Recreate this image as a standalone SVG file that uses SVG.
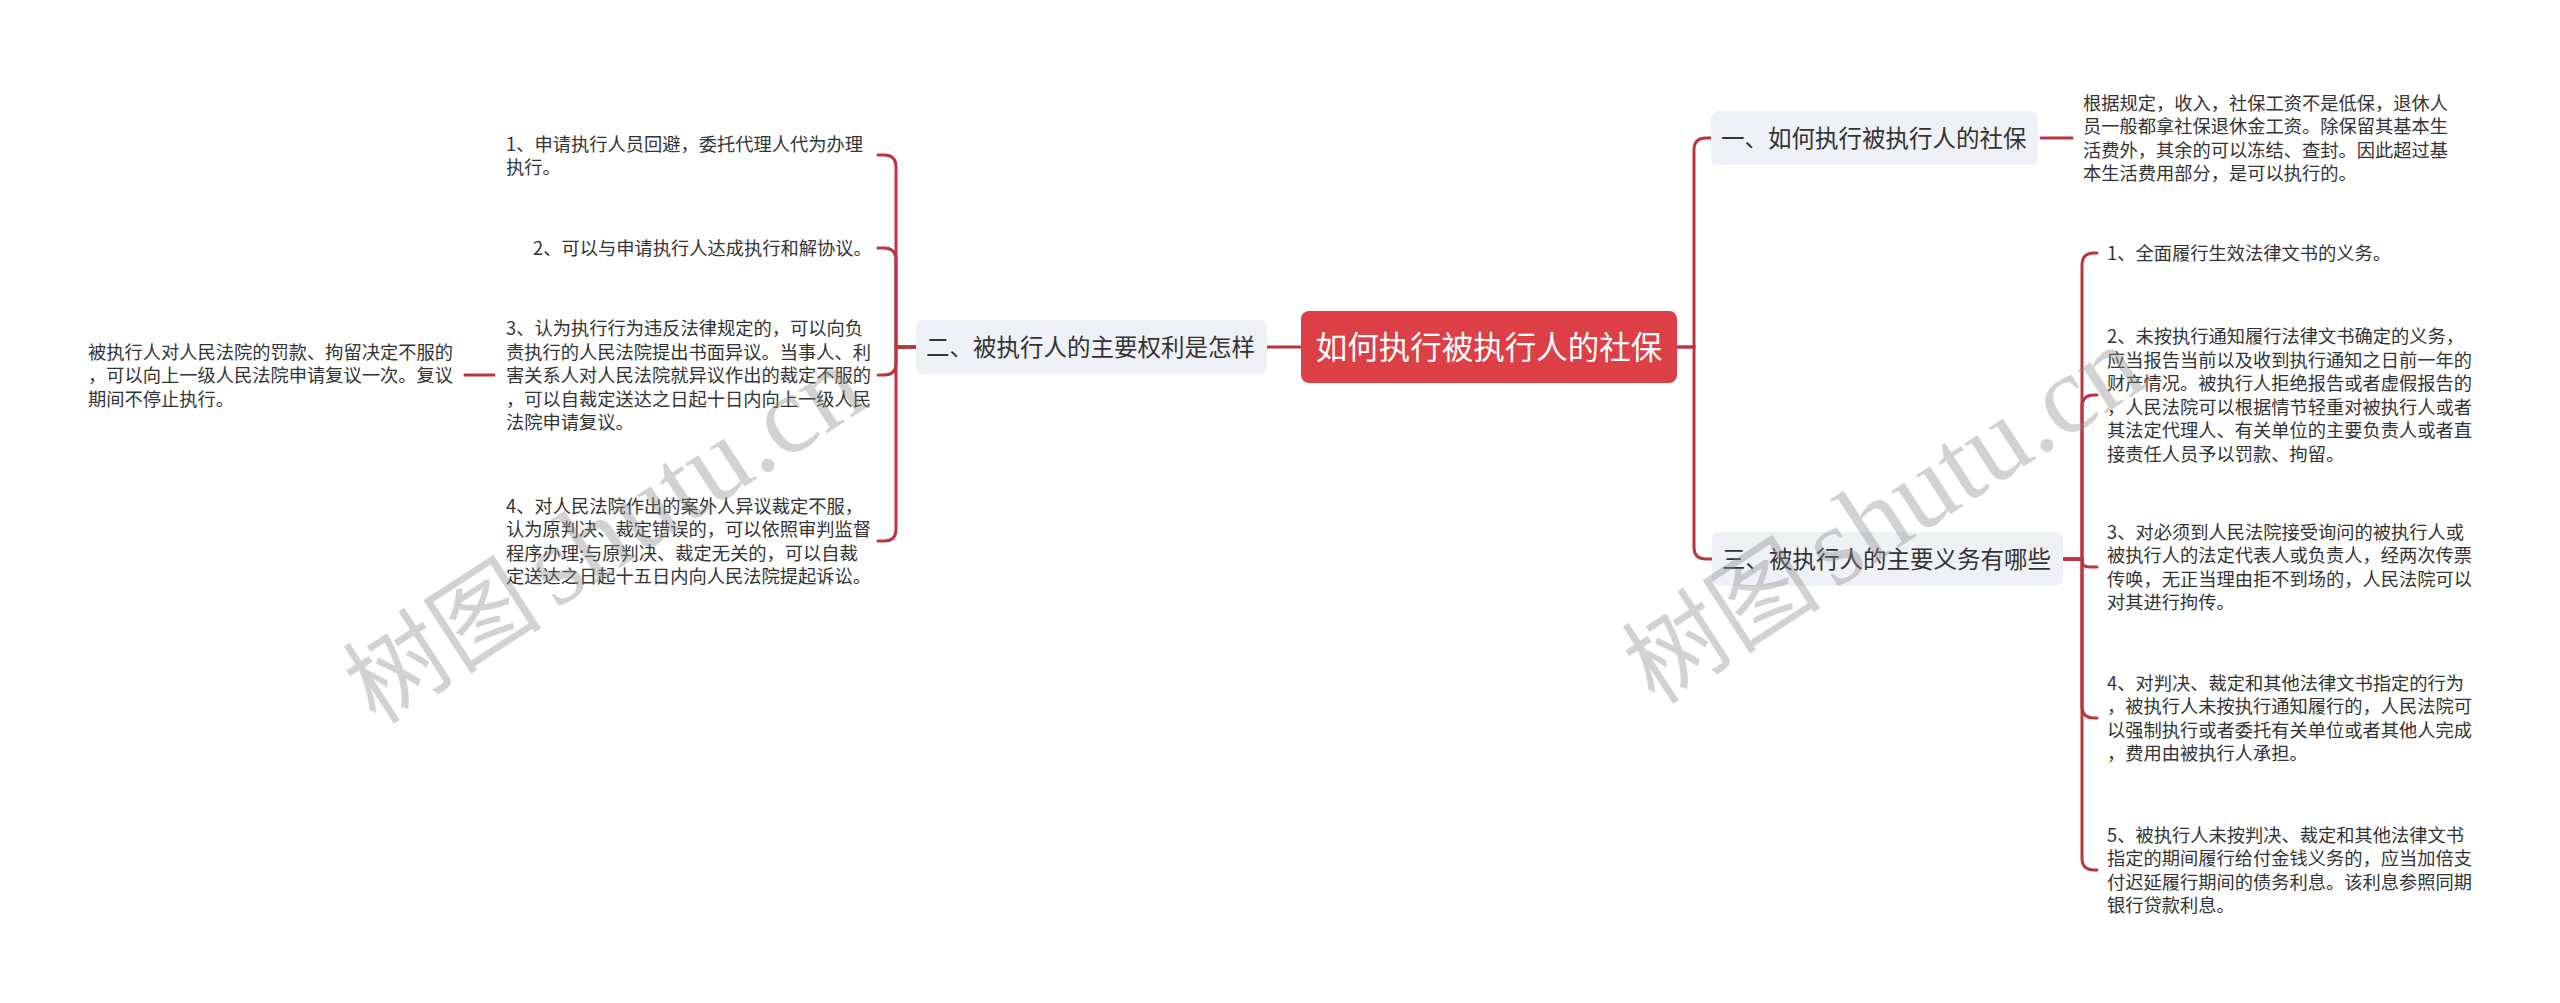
<svg xmlns="http://www.w3.org/2000/svg" width="2560" height="1003" viewBox="0 0 2560 1003">
<style>
.bg{fill:#ffffff}
.ln{fill:none;stroke:#b9363e;stroke-width:3;stroke-linecap:round}
.root{fill:#dc3f46}
.rootT{font-family:"Noto Sans CJK SC","Noto Sans",sans-serif;font-size:31.5px;fill:#ffffff;text-anchor:middle}
.br{fill:#eef1f5}
.brT{font-family:"Noto Sans CJK SC","Noto Sans",sans-serif;font-size:23.5px;fill:#333333}
.lf{font-family:"Noto Sans CJK SC","Noto Sans",sans-serif;font-size:18.25px;fill:#333333}
.wm{font-family:"Noto Sans CJK SC",sans-serif;font-size:100px;fill:#8a8a8a;fill-opacity:0.38}
.wl{font-family:"Liberation Serif","Noto Sans CJK SC",serif;font-size:112px}
</style>
<rect class="bg" x="0" y="0" width="2560" height="1003"/>
<g id="connectors">
  <path class="ln" d="M1301 347 H1267"/>
  <path class="ln" d="M916 347 H896 V167 Q896 155 884 155 H878"/>
  <path class="ln" d="M916 347 H896 V260 Q896 248 884 248 H878"/>
  <path class="ln" d="M916 347 H896 V363 Q896 375 884 375 H878"/>
  <path class="ln" d="M916 347 H896 V529 Q896 541 884 541 H878"/>
  <path class="ln" d="M494 375 H465"/>
  <path class="ln" d="M1677 347 H1694 V150 Q1694 138 1706 138 H1711"/>
  <path class="ln" d="M1677 347 H1694 V547 Q1694 559 1706 559 H1712"/>
  <path class="ln" d="M2041 138 H2072"/>
  <path class="ln" d="M2063 559 H2082 V265 Q2082 253 2094 253 H2097"/>
  <path class="ln" d="M2063 559 H2082 V407 Q2082 395 2094 395 H2097"/>
  <path class="ln" d="M2063 559 H2082 V561 Q2082 567 2090 567 H2097"/>
  <path class="ln" d="M2063 559 H2082 V706 Q2082 718 2094 718 H2097"/>
  <path class="ln" d="M2063 559 H2082 V858 Q2082 870 2094 870 H2097"/>
</g>
<g id="root">
  <rect class="root" x="1301" y="311" width="376" height="72" rx="8"/>
  <text class="rootT" x="1489" y="359">如何执行被执行人的社保</text>
</g>
<g id="branch-left">
  <rect class="br" x="916" y="320" width="351" height="54" rx="7"/>
  <text class="brT" x="926" y="356">二、被执行人的主要权利是怎样</text>
</g>
<g id="branch-r1">
  <rect class="br" x="1711" y="111" width="327" height="54" rx="7"/>
  <text class="brT" x="1721" y="147">一、如何执行被执行人的社保</text>
</g>
<g id="branch-r3">
  <rect class="br" x="1712" y="532" width="351" height="54" rx="7"/>
  <text class="brT" x="1722" y="568">三、被执行人的主要义务有哪些</text>
</g>
<g id="l-1">
  <text class="lf" x="506" y="150.5"><tspan x="506">1、申请执行人员回避，委托代理人代为办理</tspan><tspan x="506" dy="23.5">执行。</tspan></text>
</g>
<g id="l-2">
  <text class="lf" x="533" y="255">2、可以与申请执行人达成执行和解协议。</text>
</g>
<g id="l-3">
  <text class="lf" x="506" y="335"><tspan x="506">3、认为执行行为违反法律规定的，可以向负</tspan><tspan x="506" dy="23.5">责执行的人民法院提出书面异议。当事人、利</tspan><tspan x="506" dy="23.5">害关系人对人民法院就异议作出的裁定不服的</tspan><tspan x="506" dy="23.5">，可以自裁定送达之日起十日内向上一级人民</tspan><tspan x="506" dy="23.5">法院申请复议。</tspan></text>
</g>
<g id="l-4">
  <text class="lf" x="506" y="512.5"><tspan x="506">4、对人民法院作出的案外人异议裁定不服，</tspan><tspan x="506" dy="23.5">认为原判决、裁定错误的，可以依照审判监督</tspan><tspan x="506" dy="23.5">程序办理;与原判决、裁定无关的，可以自裁</tspan><tspan x="506" dy="23.5">定送达之日起十五日内向人民法院提起诉讼。</tspan></text>
</g>
<g id="l-3-1">
  <text class="lf" x="88" y="358.5"><tspan x="88">被执行人对人民法院的罚款、拘留决定不服的</tspan><tspan x="88" dy="23.5">，可以向上一级人民法院申请复议一次。复议</tspan><tspan x="88" dy="23.5">期间不停止执行。</tspan></text>
</g>
<g id="r1-1">
  <text class="lf" x="2083" y="109.5"><tspan x="2083">根据规定，收入，社保工资不是低保，退休人</tspan><tspan x="2083" dy="23.5">员一般都拿社保退休金工资。除保留其基本生</tspan><tspan x="2083" dy="23.5">活费外，其余的可以冻结、查封。因此超过基</tspan><tspan x="2083" dy="23.5">本生活费用部分，是可以执行的。</tspan></text>
</g>
<g id="r3-1">
  <text class="lf" x="2107" y="260">1、全面履行生效法律文书的义务。</text>
</g>
<g id="r3-2">
  <text class="lf" x="2107" y="343"><tspan x="2107">2、未按执行通知履行法律文书确定的义务，</tspan><tspan x="2107" dy="23.5">应当报告当前以及收到执行通知之日前一年的</tspan><tspan x="2107" dy="23.5">财产情况。被执行人拒绝报告或者虚假报告的</tspan><tspan x="2107" dy="23.5">，人民法院可以根据情节轻重对被执行人或者</tspan><tspan x="2107" dy="23.5">其法定代理人、有关单位的主要负责人或者直</tspan><tspan x="2107" dy="23.5">接责任人员予以罚款、拘留。</tspan></text>
</g>
<g id="r3-3">
  <text class="lf" x="2107" y="538.5"><tspan x="2107">3、对必须到人民法院接受询问的被执行人或</tspan><tspan x="2107" dy="23.5">被执行人的法定代表人或负责人，经两次传票</tspan><tspan x="2107" dy="23.5">传唤，无正当理由拒不到场的，人民法院可以</tspan><tspan x="2107" dy="23.5">对其进行拘传。</tspan></text>
</g>
<g id="r3-4">
  <text class="lf" x="2107" y="689.5"><tspan x="2107">4、对判决、裁定和其他法律文书指定的行为</tspan><tspan x="2107" dy="23.5">，被执行人未按执行通知履行的，人民法院可</tspan><tspan x="2107" dy="23.5">以强制执行或者委托有关单位或者其他人完成</tspan><tspan x="2107" dy="23.5">，费用由被执行人承担。</tspan></text>
</g>
<g id="r3-5">
  <text class="lf" x="2107" y="841.5"><tspan x="2107">5、被执行人未按判决、裁定和其他法律文书</tspan><tspan x="2107" dy="23.5">指定的期间履行给付金钱义务的，应当加倍支</tspan><tspan x="2107" dy="23.5">付迟延履行期间的债务利息。该利息参照同期</tspan><tspan x="2107" dy="23.5">银行贷款利息。</tspan></text>
</g>
<g id="watermarks">
  <text class="wm" x="376" y="726" transform="rotate(-33 376 726)">树图<tspan class="wl" dx="14">shutu.cn</tspan></text>
  <text class="wm" x="1655" y="706" transform="rotate(-33 1655 706)">树图<tspan class="wl" dx="14">shutu.cn</tspan></text>
</g>
</svg>
